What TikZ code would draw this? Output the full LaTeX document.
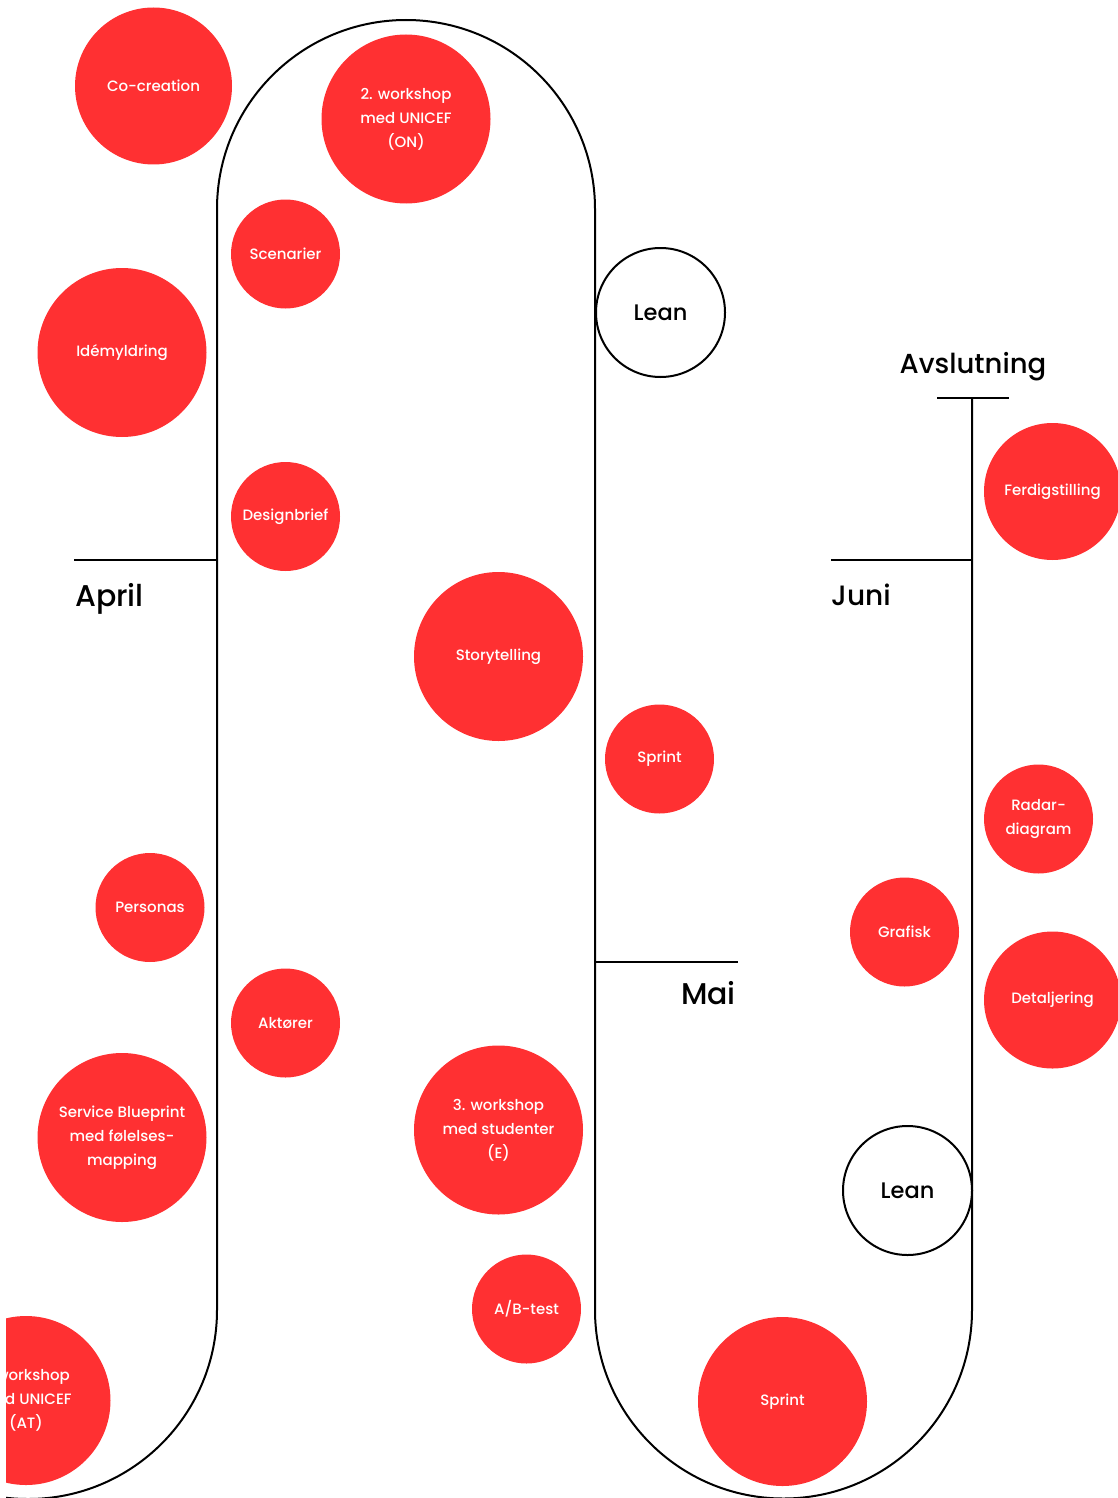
\documentclass[tikz,border=0pt]{standalone}
\usepackage{fontspec}
\setmainfont{Poppins}[UprightFont=* Medium]
\definecolor{dotred}{RGB}{255,48,50}
\begin{document}
\begin{tikzpicture}[x=1pt,y=-1pt,
  track/.style={line width=2pt, black},
  dot/.style={circle, fill=dotred, text=white, inner sep=0pt, align=center,
    font=\fontsize{15}{24}\selectfont},
  dotS/.style={dot, minimum size=109pt},
  dotM/.style={dot, minimum size=137pt},
  dotL/.style={dot, minimum size=169pt},
  leanbox/.style={circle, draw=black, line width=2pt, fill=white, inner sep=0pt,
    minimum size=129pt, font=\fontsize{22.5}{28}\selectfont},
  month/.style={font=\fontsize{29}{34}\selectfont, inner sep=0pt}
]
\useasboundingbox (0,0) rectangle (1118,1498);
\clip (6,0) rectangle (1118,1498);

% winding timeline
\coordinate (ltop) at (217,209);
\coordinate (lbot) at (217,1310);
\coordinate (rtop) at (595,209);
\coordinate (rbot) at (595,1310);
\coordinate (etop) at (972,398);
\draw[track] (lbot) arc[start angle=0, end angle=180, radius=189];
\draw[track] (lbot) -- (ltop) arc[start angle=180, end angle=360, radius=189]
  -- (rbot) arc[start angle=180, end angle=0, radius=188.5] -- (etop);

% end bar
\coordinate (ebarL) at (937,398);
\coordinate (ebarR) at (1009,398);
\draw[track] (ebarL) -- (ebarR);

% month ticks
\coordinate (aprA) at (74,559.5);  \coordinate (aprB) at (217,559.5);
\coordinate (maiA) at (595,962);   \coordinate (maiB) at (738,962);
\coordinate (junA) at (831,559.5); \coordinate (junB) at (972,559.5);
\draw[track] (aprA) -- (aprB);
\draw[track] (maiA) -- (maiB);
\draw[track] (junA) -- (junB);

\node[month, anchor=base west, font=\fontsize{30}{34}\selectfont] (april) at (75,606) {April};
\node[month, anchor=base east, font=\fontsize{30}{34}\selectfont] (mai) at (736,1004) {Mai};
\node[month, anchor=base west, font=\fontsize{28}{34}\selectfont] (juni) at (831,605) {Juni};
\node[month, anchor=base, font=\fontsize{27.5}{34}\selectfont] (avslutning) at (973,373) {Avslutning};

% activities
\node[dot, minimum size=157pt] (cocreation) at (153.5,86) {Co-creation};
\node[dotL] (ws2) at (406,119) {2. workshop\\med UNICEF\\(ON)};
\node[dotS] (scenarier) at (285.5,254) {Scenarier};
\node[leanbox] (lean1) at (660.5,312.5) {Lean};
\node[dotL] (idemyldring) at (122,352.5) {Idémyldring};
\node[dotS] (designbrief) at (285.5,516.5) {Designbrief};
\node[dotM] (ferdig) at (1052.5,491.5) {Ferdigstilling};
\node[dotL] (story) at (498.5,656.5) {Storytelling};
\node[dotS] (sprint1) at (659.5,759) {Sprint};
\node[dotS] (radar) at (1038.5,819) {Radar-\\diagram};
\node[dotS] (personas) at (150,907.5) {Personas};
\node[dotS] (grafisk) at (904.5,932) {Grafisk};
\node[dotM] (detalj) at (1052.5,1000) {Detaljering};
\node[dotS] (aktorer) at (285.5,1023) {Aktører};
\node[dotL] (blueprint) at (122,1137.5) {Service Blueprint\\med følelses-\\mapping};
\node[dotL] (ws3) at (498.5,1130) {3. workshop\\med studenter\\(E)};
\node[leanbox] (lean2) at (907.5,1190.5) {Lean};
\node[dotS] (abtest) at (526.5,1309) {A/B-test};
\node[dotL] (sprint2) at (782.5,1401.5) {Sprint};
\node[dotL] (ws1) at (26,1400.5) {1. workshop\\med UNICEF\\(AT)};
\end{tikzpicture}
\end{document}
